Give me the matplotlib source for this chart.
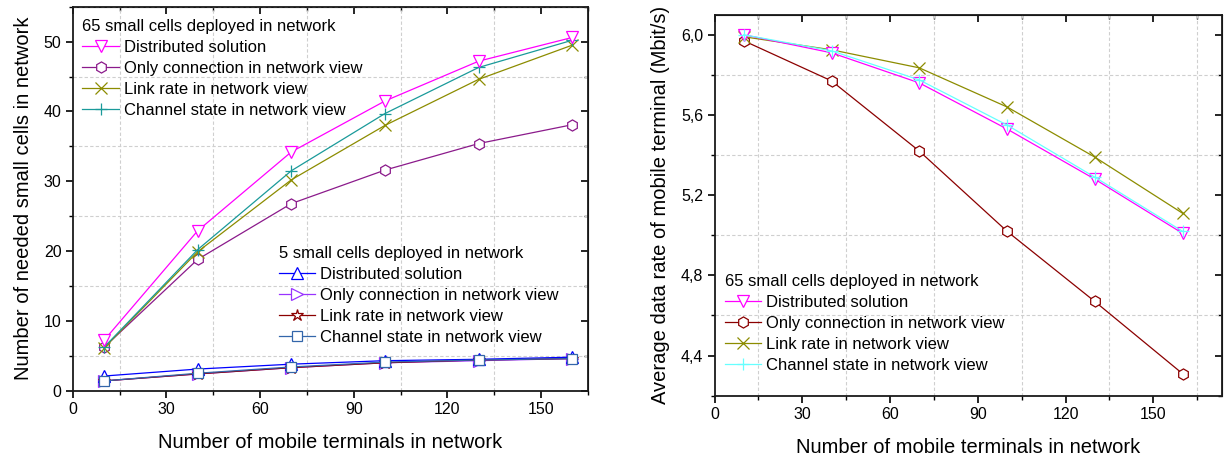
import matplotlib
matplotlib.use("Agg")
import matplotlib.pyplot as plt
from matplotlib.ticker import MultipleLocator, FuncFormatter

plt.rcParams['font.family'] = ['Liberation Sans', 'DejaVu Sans']

# ---------------- data ----------------
terminals = [10, 40, 70, 100, 130, 160]

# left: number of needed small cells, 65 cells deployed
cells65_distributed = [7.2, 22.9, 34.2, 41.5, 47.2, 50.6]
cells65_only_conn = [6.2, 18.8, 26.8, 31.6, 35.4, 38.1]
cells65_link_rate = [6.1, 19.9, 30.2, 38.0, 44.6, 49.5]
cells65_channel = [6.2, 20.2, 31.5, 39.7, 46.3, 50.2]

# left: 5 cells deployed
cells5_distributed = [2.1, 3.1, 3.8, 4.3, 4.5, 4.8]
cells5_only_conn = [1.4, 2.4, 3.3, 4.0, 4.3, 4.6]
cells5_link_rate = [1.4, 2.4, 3.3, 4.0, 4.4, 4.6]
cells5_channel = [1.4, 2.5, 3.4, 4.1, 4.4, 4.6]

# right: average data rate (Mbit/s), 65 cells deployed
rate_distributed = [6.00, 5.91, 5.76, 5.53, 5.28, 5.01]
rate_only_conn = [5.97, 5.77, 5.42, 5.02, 4.67, 4.31]
rate_link_rate = [5.99, 5.925, 5.835, 5.64, 5.39, 5.11]
rate_channel = [6.00, 5.92, 5.775, 5.55, 5.29, 5.02]

labels = ["Distributed solution", "Only connection in network view",
          "Link rate in network view", "Channel state in network view"]

W, H = 1224, 462
fig = plt.figure(figsize=(W / 100, H / 100), dpi=100)

def px_axes(l, t, r, b):
    return fig.add_axes([l / W, 1 - b / H, (r - l) / W, (b - t) / H])

ax1 = px_axes(72.7, 6.7, 588, 390.7)
ax2 = px_axes(714.5, 14.7, 1222, 395.7)

lw = 0.9
ms = 8

def plot(ax, y, color, marker, label, msz=ms):
    (ln,) = ax.plot(terminals, y, color=color, marker=marker, markersize=msz,
                    markerfacecolor='white', markeredgecolor=color,
                    markeredgewidth=0.9, linewidth=lw, label=label)
    return ln

# left, 65 cells
a_oc = plot(ax1, cells65_only_conn, '#8B1A8B', 'h', labels[1])
a_lr = plot(ax1, cells65_link_rate, '#8C8C00', 'x', labels[2], 9)
a_cs = plot(ax1, cells65_channel, '#1A9A9A', '+', labels[3], 9)
a_ds = plot(ax1, cells65_distributed, '#FF00FF', 'v', labels[0])
h65 = [a_ds, a_oc, a_lr, a_cs]

# left, 5 cells
b_oc = plot(ax1, cells5_only_conn, '#9933FF', '>', labels[1])
b_lr = plot(ax1, cells5_link_rate, '#8B0000', '*', labels[2], 9)
b_ds = plot(ax1, cells5_distributed, '#0000FF', '^', labels[0])
b_cs = plot(ax1, cells5_channel, '#3366AA', 's', labels[3], 7)
h5 = [b_ds, b_oc, b_lr, b_cs]

# right
r_oc = plot(ax2, rate_only_conn, '#8B0000', 'h', labels[1])
r_lr = plot(ax2, rate_link_rate, '#8C8C00', 'x', labels[2], 9)
r_ds = plot(ax2, rate_distributed, '#FF00FF', 'v', labels[0])
r_cs = plot(ax2, rate_channel, '#66FFFF', '+', labels[3], 9)
hr = [r_ds, r_oc, r_lr, r_cs]

ax1.set_xlim(0, 165)
ax1.set_ylim(0, 55)
ax2.set_xlim(0, 173.5)
ax2.set_ylim(4.2, 6.1)

tick_fs = 11.5
for ax, ymaj, ymin in [(ax1, 10, 5), (ax2, 0.4, 0.2)]:
    ax.xaxis.set_major_locator(MultipleLocator(30))
    ax.xaxis.set_minor_locator(MultipleLocator(15))
    ax.yaxis.set_major_locator(MultipleLocator(ymaj))
    ax.yaxis.set_minor_locator(MultipleLocator(ymin))
    ax.tick_params(which='major', direction='out', length=5, width=1.2,
                   labelsize=tick_fs, pad=3)
    ax.tick_params(which='minor', direction='out', length=3, width=1.0)
    ax.grid(which='minor', color='#CFCFCF', linestyle=(0, (3, 2)), linewidth=0.8)
    ax.grid(which='major', visible=False)
    for s in ax.spines.values():
        s.set_linewidth(1.3)
        s.set_color('#1a1a1a')
    ax.set_axisbelow(True)
    sx = ax.secondary_xaxis('top')
    sx.xaxis.set_major_locator(MultipleLocator(30))
    sx.xaxis.set_minor_locator(MultipleLocator(15))
    sx.tick_params(which='major', direction='in', length=5, width=1.2, labeltop=False)
    sx.tick_params(which='minor', direction='in', length=3, width=1.0)
    sy = ax.secondary_yaxis('right')
    sy.yaxis.set_major_locator(MultipleLocator(ymaj))
    sy.yaxis.set_minor_locator(MultipleLocator(ymin))
    sy.tick_params(which='major', direction='in', length=5, width=1.2, labelright=False)
    sy.tick_params(which='minor', direction='in', length=3, width=1.0)

ax2.yaxis.set_major_formatter(FuncFormatter(lambda v, p: f"{v:.1f}".replace('.', ',')))

lab_fs = 14.5
ax1.set_xlabel("Number of mobile terminals in network", fontsize=lab_fs, labelpad=12)
ax1.set_ylabel("Number of needed small cells in network", fontsize=lab_fs, labelpad=8)
ax2.set_xlabel("Number of mobile terminals in network", fontsize=lab_fs, labelpad=12)
ax2.set_ylabel("Average data rate of mobile terminal (Mbit/s)", fontsize=lab_fs, labelpad=8)

leg_kw = dict(frameon=False, fontsize=12, title_fontsize=12, loc='upper left',
              borderpad=0, borderaxespad=0, handlelength=2.2, handletextpad=0.3,
              labelspacing=0.36, alignment='left')
l1 = ax1.legend(h65, labels, title="65 small cells deployed in network",
                bbox_to_anchor=(0.019, 0.969), **leg_kw)
ax1.add_artist(l1)
ax1.legend(h5, labels, title="5 small cells deployed in network",
           bbox_to_anchor=(0.40, 0.376), **leg_kw)
ax2.legend(hr, labels, title="65 small cells deployed in network",
           bbox_to_anchor=(0.02, 0.319), **leg_kw)

fig.savefig("out.png", dpi=100)
